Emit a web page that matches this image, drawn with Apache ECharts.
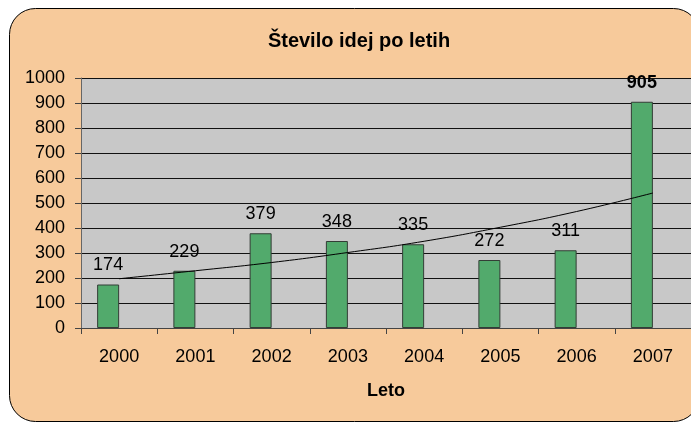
<!DOCTYPE html>
<html>
<head>
<meta charset="utf-8">
<script src="https://cdn.jsdelivr.net/npm/echarts@6/dist/echarts.min.js"></script>
<style>
  html, body { margin: 0; padding: 0; background: #fff; }
  #chart { width: 691px; height: 423px; }
</style>
</head>
<body>
<div id="chart"></div>
<script>
const leta = ["2000", "2001", "2002", "2003", "2004", "2005", "2006", "2007"];
const steviloIdej = [174, 229, 379, 348, 335, 272, 311, 905];
// trend line (exponential-looking curve)
const trend = [197, 229, 262, 302, 347, 403, 466, 540];

const chart = echarts.init(document.getElementById("chart"));
const font = "Liberation Sans, Arial, sans-serif";

const option = {
  animation: false,
  textStyle: { fontFamily: font },
  graphic: [
    {
      type: "rect",
      z: -10,
      shape: { x: 9.5, y: 8.5, width: 690, height: 413, r: 26 },
      style: { fill: "#f7ca9b", stroke: "#000", lineWidth: 1 },
    },
  ],
  title: {
    text: "Število idej po letih",
    left: 354,
    top: 26,
    textAlign: "center",
    textStyle: { fontSize: 20, fontWeight: "bold", color: "#000", fontFamily: font },
  },
  grid: {
    left: 81,
    top: 78,
    width: 610,
    height: 250,
    show: true,
    backgroundColor: "#c8c8c8",
    borderWidth: 0,
  },
  xAxis: {
    type: "category",
    data: leta,
    name: "Leto",
    nameLocation: "middle",
    nameGap: 54,
    nameTextStyle: { fontSize: 18, fontWeight: "bold", color: "#000" },
    axisLine: { lineStyle: { color: "#444", width: 1 } },
    axisTick: { show: true, length: 6, lineStyle: { color: "#444" } },
    axisLabel: { fontSize: 18, color: "#000", margin: 20 },
  },
  yAxis: {
    type: "value",
    min: 0,
    max: 1000,
    interval: 100,
    axisLine: { show: true, lineStyle: { color: "#666", width: 1 } },
    axisTick: { show: true, length: 6, lineStyle: { color: "#444" } },
    axisLabel: { fontSize: 18, color: "#000", margin: 16, formatter: (v) => String(v) },
    splitLine: { show: true, lineStyle: { color: "#111", width: 1 } },
  },
  series: [
    {
      name: "Število idej",
      type: "bar",
      data: steviloIdej.map((v, i) =>
        i === steviloIdej.length - 1
          ? { value: v, label: { fontWeight: "bold" } }
          : v
      ),
      barWidth: 22,
      barGap: "0%",
      itemStyle: { color: "#52aa6c", borderColor: "#333d36", borderWidth: 1 },
      label: {
        show: true,
        position: "top",
        distance: 10,
        fontSize: 18,
        color: "#000",
      },
      z: 2,
    },
    {
      name: "prazno",
      type: "bar",
      data: leta.map(() => null),
      barWidth: 22,
    },
    {
      name: "Trend",
      type: "line",
      data: trend,
      smooth: true,
      symbol: "none",
      lineStyle: { color: "#000", width: 1 },
      z: 5,
    },
  ],
};

chart.setOption(option);
</script>
</body>
</html>
